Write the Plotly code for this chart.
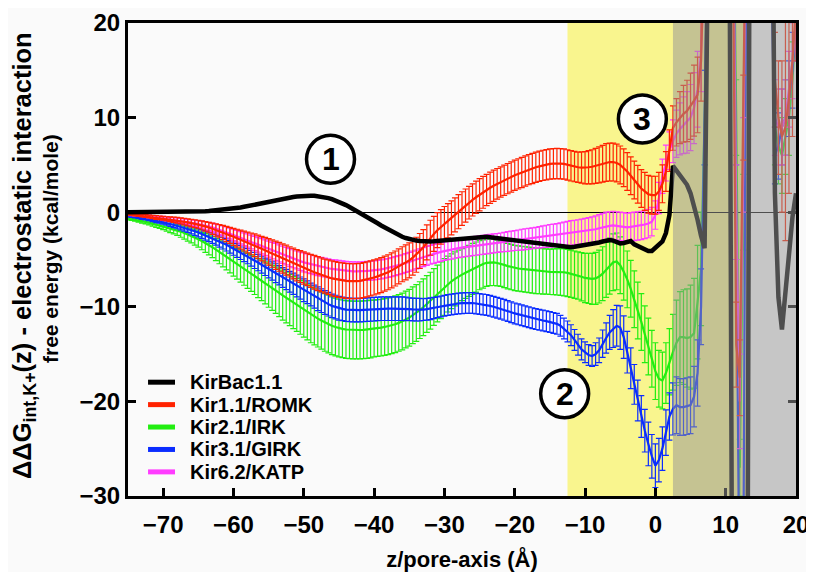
import plotly.graph_objects as go

# ---------------- data ----------------
# pore axis sampling: -75 ... 20 Å in 0.5 Å steps (191 points)
z = [-75 + 0.5 * i for i in range(191)]

kirbac = [0, 0, 0, 0, 0, 0, 0, 0, 0, 0,
          0, 0, 0, 0, 0, 0.01, 0.02, 0.02, 0.03, 0.04,
          0.05, 0.07, 0.1, 0.12, 0.15, 0.18, 0.22, 0.26, 0.3, 0.35,
          0.4, 0.45, 0.5, 0.57, 0.65, 0.72, 0.8, 0.87, 0.95, 1.02,
          1.1, 1.18, 1.25, 1.33, 1.4, 1.48, 1.55, 1.6, 1.65, 1.69,
          1.72, 1.74, 1.75, 1.73, 1.7, 1.65, 1.58, 1.49, 1.38, 1.25,
          1.1, 0.93, 0.75, 0.55, 0.35, 0.15, -0.05, -0.27, -0.5, -0.72,
          -0.95, -1.17, -1.4, -1.62, -1.85, -2.05, -2.25, -2.43, -2.6, -2.73,
          -2.85, -2.93, -3.0, -3.05, -3.1, -3.1, -3.1, -3.08, -3.05, -3.02,
          -3.0, -2.95, -2.9, -2.85, -2.8, -2.75, -2.7, -2.68, -2.65, -2.62,
          -2.6, -2.6, -2.6, -2.65, -2.7, -2.75, -2.8, -2.85, -2.9, -2.95,
          -3.0, -3.05, -3.1, -3.15, -3.2, -3.25, -3.3, -3.35, -3.4, -3.45,
          -3.5, -3.55, -3.6, -3.65, -3.7, -3.7, -3.7, -3.65, -3.6, -3.55,
          -3.5, -3.45, -3.4, -3.3, -3.2, -3.1, -3.0, -2.95, -3.0, -3.2,
          -3.3, -3.25, -3.1, -3.05, -3.4, -3.6, -3.7, -3.9, -4.1, -4.1,
          -3.8, -3.5, -3.1, -2.2, -0.3, 4.9, 4.4, 4.0, 3.4, 2.9,
          2.0, 0.8, -0.8, -2.5, -3.8, 30, 60, 60, 60, 60,
          60, 40, -60, -70, -70, -70, -70, 60, 70, 70,
          70, 70, 70, 50, 2, -9, -12.4, -9, -4.5, -0.5,
          2]

romk = [-0.2, -0.25, -0.3, -0.33, -0.35, -0.4, -0.45, -0.5, -0.55, -0.6,
        -0.65, -0.7, -0.75, -0.8, -0.85, -0.92, -1.0, -1.07, -1.15, -1.22,
        -1.3, -1.4, -1.5, -1.62, -1.75, -1.87, -2.0, -2.15, -2.3, -2.45,
        -2.6, -2.75, -2.9, -3.05, -3.2, -3.35, -3.5, -3.67, -3.85, -4.02,
        -4.2, -4.37, -4.55, -4.72, -4.9, -5.07, -5.25, -5.42, -5.6, -5.75,
        -5.9, -6.05, -6.2, -6.35, -6.5, -6.62, -6.75, -6.87, -7.0, -7.08,
        -7.15, -7.2, -7.25, -7.28, -7.3, -7.28, -7.25, -7.18, -7.1, -7.0,
        -6.9, -6.78, -6.65, -6.5, -6.35, -6.15, -5.95, -5.73, -5.5, -5.3,
        -5.1, -4.8, -4.5, -4.1, -3.7, -3.2, -2.7, -2.3, -1.9, -1.55,
        -1.2, -0.9, -0.6, -0.28, 0.05, 0.38, 0.7, 1.0, 1.3, 1.58,
        1.85, 2.1, 2.35, 2.58, 2.8, 3.0, 3.2, 3.38, 3.55, 3.72,
        3.9, 4.05, 4.2, 4.35, 4.5, 4.62, 4.75, 4.85, 4.95, 5.02,
        5.1, 5.13, 5.15, 5.13, 5.1, 5.0, 4.9, 4.82, 4.75, 4.72,
        4.7, 4.75, 4.8, 4.9, 5.0, 5.12, 5.25, 5.3, 5.3, 5.2,
        5.0, 4.7, 4.3, 3.85, 3.4, 2.95, 2.5, 2.2, 1.9, 1.8,
        1.8, 2.2, 3.0, 4.3, 6.5, 8.9, 9.5, 10.0, 10.4, 10.7,
        11.2, 11.8, 12.4, 16, 30, 38, 40, 42, 42, 40,
        40, 40, 30, -14, -17.5, 10, 40, 45, 45, 45,
        45, 45, 45, 30, 14, 10, 8, 9, 12, 16,
        22]
romk_err = [0.1, 0.1, 0.1, 0.12, 0.15, 0.15, 0.15, 0.18, 0.2, 0.2,
            0.2, 0.22, 0.25, 0.28, 0.3, 0.32, 0.35, 0.38, 0.4, 0.42,
            0.45, 0.48, 0.5, 0.55, 0.6, 0.65, 0.7, 0.75, 0.8, 0.85,
            0.9, 0.95, 1.0, 1.05, 1.1, 1.15, 1.2, 1.25, 1.3, 1.35,
            1.4, 1.45, 1.5, 1.52, 1.55, 1.58, 1.6, 1.62, 1.65, 1.68,
            1.7, 1.72, 1.75, 1.78, 1.8, 1.8, 1.8, 1.82, 1.85, 1.85,
            1.85, 1.85, 1.85, 1.85, 1.85, 1.85, 1.85, 1.85, 1.85, 1.85,
            1.85, 1.85, 1.85, 1.85, 1.85, 1.85, 1.85, 1.85, 1.85, 1.85,
            1.85, 1.85, 1.85, 1.85, 1.85, 1.85, 1.85, 1.85, 1.85, 1.82,
            1.8, 1.8, 1.8, 1.8, 1.8, 1.78, 1.75, 1.72, 1.7, 1.7,
            1.7, 1.68, 1.65, 1.65, 1.65, 1.62, 1.6, 1.6, 1.6, 1.6,
            1.6, 1.6, 1.6, 1.6, 1.6, 1.6, 1.6, 1.6, 1.6, 1.6,
            1.6, 1.6, 1.6, 1.6, 1.6, 1.6, 1.6, 1.6, 1.6, 1.65,
            1.7, 1.75, 1.8, 1.85, 1.9, 1.95, 2.0, 2.0, 2.0, 2.0,
            2.0, 2.0, 2.0, 2.0, 2.0, 2.0, 2.0, 2.0, 2.0, 2.0,
            2.0, 2.0, 2.0, 2.1, 2.2, 2.35, 2.5, 2.75, 3.0, 3.25,
            3.5, 3.75, 4.0, 4.25, 4.5, 4.75, 5, 5, 5, 5,
            5, 5, 5, 4.5, 4, 4.5, 5, 5, 5, 5,
            5, 5, 5, 5, 5, 6, 8, 12, 10, 8,
            6]

irk = [-0.7, -0.75, -0.8, -0.87, -0.95, -1.02, -1.1, -1.2, -1.3, -1.4,
       -1.5, -1.6, -1.7, -1.8, -1.9, -2.05, -2.2, -2.35, -2.5, -2.67,
       -2.85, -3.05, -3.25, -3.47, -3.7, -3.95, -4.2, -4.45, -4.7, -4.95,
       -5.2, -5.45, -5.7, -5.95, -6.2, -6.45, -6.7, -6.95, -7.2, -7.47,
       -7.75, -8.0, -8.25, -8.52, -8.8, -9.05, -9.3, -9.55, -9.8, -10.05,
       -10.3, -10.55, -10.8, -11.03, -11.25, -11.45, -11.65, -11.83, -12.0, -12.13,
       -12.25, -12.33, -12.4, -12.43, -12.45, -12.45, -12.45, -12.43, -12.4, -12.35,
       -12.3, -12.25, -12.2, -12.13, -12.05, -11.95, -11.85, -11.7, -11.55, -11.35,
       -11.15, -10.9, -10.65, -10.35, -10.05, -9.7, -9.35, -8.97, -8.6, -8.25,
       -7.9, -7.6, -7.3, -7.05, -6.8, -6.6, -6.4, -6.2, -6.0, -5.8,
       -5.6, -5.47, -5.35, -5.3, -5.3, -5.37, -5.45, -5.57, -5.7, -5.8,
       -5.9, -5.95, -6.0, -6.05, -6.1, -6.15, -6.2, -6.22, -6.25, -6.27,
       -6.3, -6.3, -6.3, -6.32, -6.35, -6.42, -6.5, -6.6, -6.7, -6.82,
       -6.95, -7.0, -7.05, -7.0, -6.8, -6.5, -6.1, -5.7, -5.3, -5.2,
       -5.6, -6.3, -7.1, -8.1, -9.2, -10.4, -11.6, -12.9, -14.2, -15.5,
       -16.8, -17.6, -17.8, -17.0, -15.8, -14.8, -13.8, -13.2, -13.2, -13.3,
       -13.2, -12.8, -9.5, -6.0, 10, 35, 40, 42, 42, 42,
       40, 40, 40, 10, -27, 0, 40, 45, 45, 45,
       45, 45, 45, 30, 9, 7, 6, 8, 10, 14,
       20]
irk_err = [0.1, 0.12, 0.15, 0.17, 0.2, 0.22, 0.25, 0.27, 0.3, 0.32,
           0.35, 0.4, 0.45, 0.5, 0.55, 0.6, 0.65, 0.7, 0.75, 0.8,
           0.85, 0.92, 1.0, 1.05, 1.1, 1.17, 1.25, 1.32, 1.4, 1.47,
           1.55, 1.62, 1.7, 1.77, 1.85, 1.92, 2.0, 2.07, 2.15, 2.22,
           2.3, 2.37, 2.45, 2.52, 2.6, 2.65, 2.7, 2.75, 2.8, 2.85,
           2.9, 2.95, 3.0, 3.0, 3.0, 3.02, 3.05, 3.05, 3.05, 3.05,
           3.05, 3.05, 3.05, 3.05, 3.05, 3.05, 3.05, 3.05, 3.05, 3.05,
           3.0, 3.0, 3.0, 3.0, 3.0, 3.0, 3.0, 3.0, 3.0, 3.0,
           3.0, 3.0, 3.0, 3.0, 3.0, 3.0, 3.0, 3.0, 3.0, 3.0,
           3.0, 2.95, 2.9, 2.85, 2.8, 2.75, 2.7, 2.7, 2.7, 2.65,
           2.6, 2.55, 2.5, 2.47, 2.45, 2.42, 2.4, 2.4, 2.4, 2.4,
           2.4, 2.4, 2.4, 2.4, 2.4, 2.4, 2.4, 2.4, 2.4, 2.4,
           2.4, 2.42, 2.45, 2.47, 2.5, 2.5, 2.5, 2.5, 2.5, 2.55,
           2.6, 2.65, 2.7, 2.75, 2.8, 2.85, 2.9, 2.95, 3.0, 3.0,
           3.0, 3.0, 3.0, 3.0, 3.0, 3.0, 3.0, 3.0, 3.0, 3.0,
           3.0, 3.0, 3.0, 3.2, 3.5, 4.0, 4.5, 4.8, 5.0, 5.2,
           5.5, 5.8, 6.0, 6.0, 5, 5, 5, 5, 5, 5,
           5, 5, 5, 4, 3, 4, 5, 5, 5, 5,
           5, 5, 5, 5, 4, 4, 4, 4, 4, 4,
           4]

girk = [-0.4, -0.45, -0.5, -0.55, -0.6, -0.67, -0.75, -0.82, -0.9, -0.97,
        -1.05, -1.15, -1.25, -1.35, -1.45, -1.55, -1.65, -1.77, -1.9, -2.02,
        -2.15, -2.3, -2.45, -2.6, -2.75, -2.92, -3.1, -3.27, -3.45, -3.65,
        -3.85, -4.05, -4.25, -4.45, -4.65, -4.87, -5.1, -5.32, -5.55, -5.77,
        -6.0, -6.22, -6.45, -6.67, -6.9, -7.12, -7.35, -7.57, -7.8, -8.02,
        -8.25, -8.47, -8.7, -8.92, -9.15, -9.35, -9.55, -9.72, -9.9, -10.03,
        -10.15, -10.22, -10.3, -10.33, -10.35, -10.35, -10.35, -10.33, -10.3, -10.28,
        -10.25, -10.22, -10.2, -10.2, -10.2, -10.2, -10.2, -10.2, -10.2, -10.22,
        -10.25, -10.28, -10.3, -10.3, -10.3, -10.25, -10.2, -10.12, -10.05, -9.97,
        -9.9, -9.82, -9.75, -9.7, -9.65, -9.62, -9.6, -9.6, -9.6, -9.65,
        -9.7, -9.75, -9.8, -9.9, -10.0, -10.1, -10.2, -10.32, -10.45, -10.57,
        -10.7, -10.8, -10.9, -11.0, -11.1, -11.2, -11.3, -11.37, -11.45, -11.52,
        -11.6, -11.7, -11.8, -12.0, -12.3, -12.6, -13.0, -13.5, -14.0, -14.5,
        -14.8, -15.1, -15.2, -15.0, -14.6, -13.9, -13.3, -12.7, -12.3, -12.0,
        -12.2, -13.2, -14.8, -16.5, -18.2, -19.9, -21.6, -23.1, -24.5, -25.8,
        -26.8, -26.2, -25.0, -23.3, -21.6, -20.8, -20.4, -20.6, -20.6, -20.5,
        -20.4, -19.5, -17.0, -10, 10, 35, 40, 42, 42, 42,
        40, 40, 40, 0, -45, -40, 40, 45, 45, 45,
        45, 45, 45, 25, 6, 7, 9, 10, 12, 15,
        20]
girk_err = [0.1, 0.1, 0.1, 0.12, 0.15, 0.15, 0.15, 0.17, 0.2, 0.2,
            0.2, 0.22, 0.25, 0.27, 0.3, 0.32, 0.35, 0.37, 0.4, 0.42,
            0.45, 0.47, 0.5, 0.52, 0.55, 0.57, 0.6, 0.62, 0.65, 0.67,
            0.7, 0.72, 0.75, 0.77, 0.8, 0.82, 0.85, 0.87, 0.9, 0.92,
            0.95, 0.97, 1.0, 1.02, 1.05, 1.07, 1.1, 1.12, 1.15, 1.17,
            1.2, 1.2, 1.2, 1.22, 1.25, 1.25, 1.25, 1.25, 1.25, 1.25,
            1.25, 1.25, 1.25, 1.25, 1.25, 1.25, 1.25, 1.25, 1.25, 1.25,
            1.25, 1.25, 1.25, 1.25, 1.25, 1.25, 1.25, 1.25, 1.25, 1.25,
            1.2, 1.2, 1.2, 1.2, 1.15, 1.15, 1.15, 1.12, 1.1, 1.1,
            1.1, 1.1, 1.1, 1.1, 1.1, 1.1, 1.1, 1.1, 1.1, 1.1,
            1.1, 1.1, 1.1, 1.1, 1.1, 1.1, 1.1, 1.1, 1.1, 1.1,
            1.1, 1.1, 1.1, 1.1, 1.1, 1.1, 1.1, 1.1, 1.1, 1.1,
            1.1, 1.1, 1.1, 1.1, 1.1, 1.1, 1.1, 1.1, 1.1, 1.1,
            1.1, 1.1, 1.1, 1.2, 1.3, 1.45, 1.6, 1.8, 2.0, 2.15,
            2.3, 2.25, 2.2, 2.15, 2.1, 2.15, 2.2, 2.25, 2.3, 2.3,
            2.3, 2.3, 2.3, 2.4, 2.5, 2.75, 3.0, 3.0, 3.0, 3.0,
            3.0, 3.2, 3.5, 4, 5, 5, 5, 5, 5, 5,
            5, 5, 5, 5, 5, 5, 5, 5, 5, 5,
            5, 5, 5, 4, 3, 3.5, 4, 4, 4, 4,
            4]

katp = [-0.25, -0.27, -0.3, -0.32, -0.35, -0.4, -0.45, -0.5, -0.55, -0.6,
        -0.65, -0.7, -0.75, -0.8, -0.85, -0.9, -0.95, -1.02, -1.1, -1.17,
        -1.25, -1.32, -1.4, -1.5, -1.6, -1.72, -1.85, -1.97, -2.1, -2.25,
        -2.4, -2.55, -2.7, -2.85, -3.0, -3.15, -3.3, -3.45, -3.6, -3.75,
        -3.9, -4.05, -4.2, -4.35, -4.5, -4.65, -4.8, -4.92, -5.05, -5.17,
        -5.3, -5.4, -5.5, -5.6, -5.7, -5.77, -5.85, -5.92, -6.0, -6.05,
        -6.1, -6.15, -6.2, -6.22, -6.25, -6.25, -6.25, -6.22, -6.2, -6.17,
        -6.15, -6.1, -6.05, -5.97, -5.9, -5.8, -5.7, -5.6, -5.5, -5.37,
        -5.25, -5.12, -5.0, -4.87, -4.75, -4.62, -4.5, -4.4, -4.3, -4.2,
        -4.1, -4.02, -3.95, -3.87, -3.8, -3.75, -3.7, -3.65, -3.6, -3.55,
        -3.5, -3.45, -3.4, -3.35, -3.3, -3.25, -3.2, -3.15, -3.1, -3.05,
        -3.0, -2.95, -2.9, -2.85, -2.8, -2.75, -2.7, -2.65, -2.6, -2.55,
        -2.5, -2.45, -2.4, -2.35, -2.3, -2.25, -2.2, -2.15, -2.1, -2.05,
        -2.0, -1.95, -1.9, -1.8, -1.7, -1.6, -1.5, -1.45, -1.4, -1.45,
        -1.5, -1.55, -1.6, -1.55, -1.5, -1.45, -1.4, -1.3, -1.2, -1.0,
        -0.3, 1.5, 3.8, 5.2, 6.5, 7.5, 8.3, 8.8, 9.2, 9.5,
        10.0, 11.0, 13.0, 17, 30, 40, 42, 42, 42, 42,
        40, 40, 35, 0, -20, 5, 40, 45, 45, 45,
        45, 45, 45, 30, 10, 9, 9, 10, 13, 16,
        20]
katp_err = [0.1, 0.1, 0.1, 0.1, 0.1, 0.12, 0.15, 0.15, 0.15, 0.17,
            0.2, 0.2, 0.2, 0.22, 0.25, 0.25, 0.25, 0.27, 0.3, 0.32,
            0.35, 0.37, 0.4, 0.42, 0.45, 0.47, 0.5, 0.52, 0.55, 0.57,
            0.6, 0.62, 0.65, 0.67, 0.7, 0.72, 0.75, 0.77, 0.8, 0.82,
            0.85, 0.87, 0.9, 0.9, 0.9, 0.92, 0.95, 0.95, 0.95, 0.97,
            1.0, 1.0, 1.0, 1.0, 1.0, 1.0, 1.0, 1.0, 1.0, 1.0,
            1.0, 1.0, 1.0, 1.0, 1.0, 1.0, 1.0, 1.0, 1.0, 1.0,
            1.0, 1.0, 1.0, 1.0, 1.0, 1.0, 1.0, 1.0, 1.0, 1.0,
            1.0, 1.0, 1.0, 1.0, 1.0, 1.0, 1.0, 1.0, 1.0, 1.0,
            1.0, 1.0, 1.0, 1.0, 1.0, 1.0, 1.0, 1.0, 1.0, 1.0,
            1.0, 1.0, 1.0, 1.0, 1.0, 1.0, 1.0, 1.02, 1.05, 1.05,
            1.05, 1.07, 1.1, 1.1, 1.1, 1.1, 1.1, 1.12, 1.15, 1.17,
            1.2, 1.2, 1.2, 1.22, 1.25, 1.27, 1.3, 1.3, 1.3, 1.32,
            1.35, 1.37, 1.4, 1.42, 1.45, 1.47, 1.5, 1.5, 1.5, 1.5,
            1.5, 1.5, 1.5, 1.5, 1.5, 1.5, 1.5, 1.5, 1.5, 1.5,
            1.5, 1.65, 1.8, 1.9, 2.0, 2.25, 2.5, 2.75, 3.0, 3.25,
            3.5, 3.75, 4.0, 4.25, 4.5, 4.75, 5, 5, 5, 5,
            5, 5, 5, 5, 5, 5, 5, 5, 5, 5,
            5, 5, 5, 5, 4, 4, 4, 4, 4, 4,
            4]

names = ["KirBac1.1", "Kir1.1/ROMK", "Kir2.1/IRK", "Kir3.1/GIRK", "Kir6.2/KATP"]
colors = ["#000000", "#ff2200", "#22ee11", "#0a2cff", "#ff3cff"]

x_ticks = [-70, -60, -50, -40, -30, -20, -10, 0, 10, 20]
y_ticks = [-30, -20, -10, 0, 10, 20]

# highlighted regions along z
yellow_span = [-12.5, 13.0]
gray_span = [2.5, 20.0]

# circled region labels: (label, z, energy)
regions = [("1", -46.2, 5.6), ("2", -12.9, -19.2), ("3", -1.85, 9.85)]

y_title_lines = ["ΔΔG<sub>int,K+</sub>(z) - electrostatic interaction",
                 "free energy (kcal/mole)"]

FONT = "Liberation Sans, Arial, Helvetica, sans-serif"

fig = go.Figure()

series = [
    (irk, irk_err, colors[2]),
    (girk, girk_err, colors[3]),
    (katp, katp_err, colors[4]),
    (romk, romk_err, colors[1]),
]
for vals, err, col in series:
    fig.add_trace(go.Scatter(
        x=z, y=vals, mode="lines",
        line=dict(color=col, width=2.2),
        error_y=dict(type="data", array=err, visible=True, color=col,
                     thickness=1.2, width=3),
        showlegend=False,
    ))

fig.add_trace(go.Scatter(x=z, y=kirbac, mode="lines",
                         line=dict(color=colors[0], width=4.5),
                         showlegend=False))

shapes = [
    dict(type="rect", xref="x", yref="paper", x0=yellow_span[0], x1=yellow_span[1],
         y0=0, y1=1, fillcolor="#f9f58e", line=dict(width=0), layer="below"),
    dict(type="rect", xref="x", yref="paper", x0=gray_span[0], x1=gray_span[1],
         y0=0, y1=1, fillcolor="rgba(150,150,150,0.52)", line=dict(width=0), layer="above"),
]
annotations = []
rx, ry = 3.41, 2.54
for lab, cx, cy in regions:
    shapes.append(dict(type="circle", xref="x", yref="y",
                       x0=cx - rx, x1=cx + rx, y0=cy - ry, y1=cy + ry,
                       fillcolor="white", line=dict(color="black", width=3.5),
                       layer="above"))
    annotations.append(dict(x=cx, y=cy, xref="x", yref="y", text=lab,
                            showarrow=False, xanchor="center", yanchor="middle",
                            font=dict(family=FONT, size=32, color="black", weight="bold")))

# legend drawn manually (compact rows as in the reference)
leg_y0, leg_dy = 0.2406, 0.0474
for i, (nm, col) in enumerate(zip(names, colors)):
    yy = leg_y0 - i * leg_dy
    shapes.append(dict(type="line", xref="paper", yref="paper",
                       x0=0.030, x1=0.0704, y0=yy, y1=yy,
                       line=dict(color=col, width=5), layer="above"))
    annotations.append(dict(x=0.0898, y=yy, xref="paper", yref="paper", text=nm,
                            showarrow=False, xanchor="left", yanchor="middle",
                            font=dict(family=FONT, size=20, color="black", weight="bold")))

# y-axis title: two rotated lines of different size, as in the reference
annotations.append(dict(x=-0.1557, y=0.5095, xref="paper", yref="paper",
                        text=y_title_lines[0], textangle=-90, showarrow=False,
                        xanchor="center", yanchor="middle",
                        font=dict(family=FONT, size=25.5, color="black", weight="bold")))
annotations.append(dict(x=-0.1168, y=0.5243, xref="paper", yref="paper",
                        text=y_title_lines[1], textangle=-90, showarrow=False,
                        xanchor="center", yanchor="middle",
                        font=dict(family=FONT, size=21, color="black", weight="bold")))

# the page body adds an 8 px offset, so the figure is 8 px smaller on each axis
fig.update_layout(
    width=806, height=564,
    margin=dict(l=120, r=18, t=15, b=76),
    paper_bgcolor="#fafafa", plot_bgcolor="#fafafa",
    showlegend=False,
    shapes=shapes, annotations=annotations,
    font=dict(family=FONT, color="black"),
)
fig.update_xaxes(
    range=[-75, 20], tickvals=x_ticks, ticks="inside", ticklen=8, tickwidth=3,
    tickcolor="black", showline=True, linewidth=3, linecolor="black", mirror=True,
    showgrid=False, zeroline=False, automargin=False, ticklabelstandoff=5,
    tickfont=dict(family=FONT, size=24, color="black", weight="bold"),
    title=dict(text="z/pore-axis (Å)", standoff=16,
               font=dict(family=FONT, size=22, color="black", weight="bold")),
)
fig.update_yaxes(
    range=[-30, 20], tickvals=y_ticks, ticks="inside", ticklen=8, tickwidth=3,
    tickcolor="black", showline=True, linewidth=3, linecolor="black", mirror="ticks",
    showgrid=False, zeroline=True, zerolinecolor="black", zerolinewidth=1,
    automargin=False,
    tickfont=dict(family=FONT, size=24, color="black", weight="bold"),
)

fig.write_html("out.html")
